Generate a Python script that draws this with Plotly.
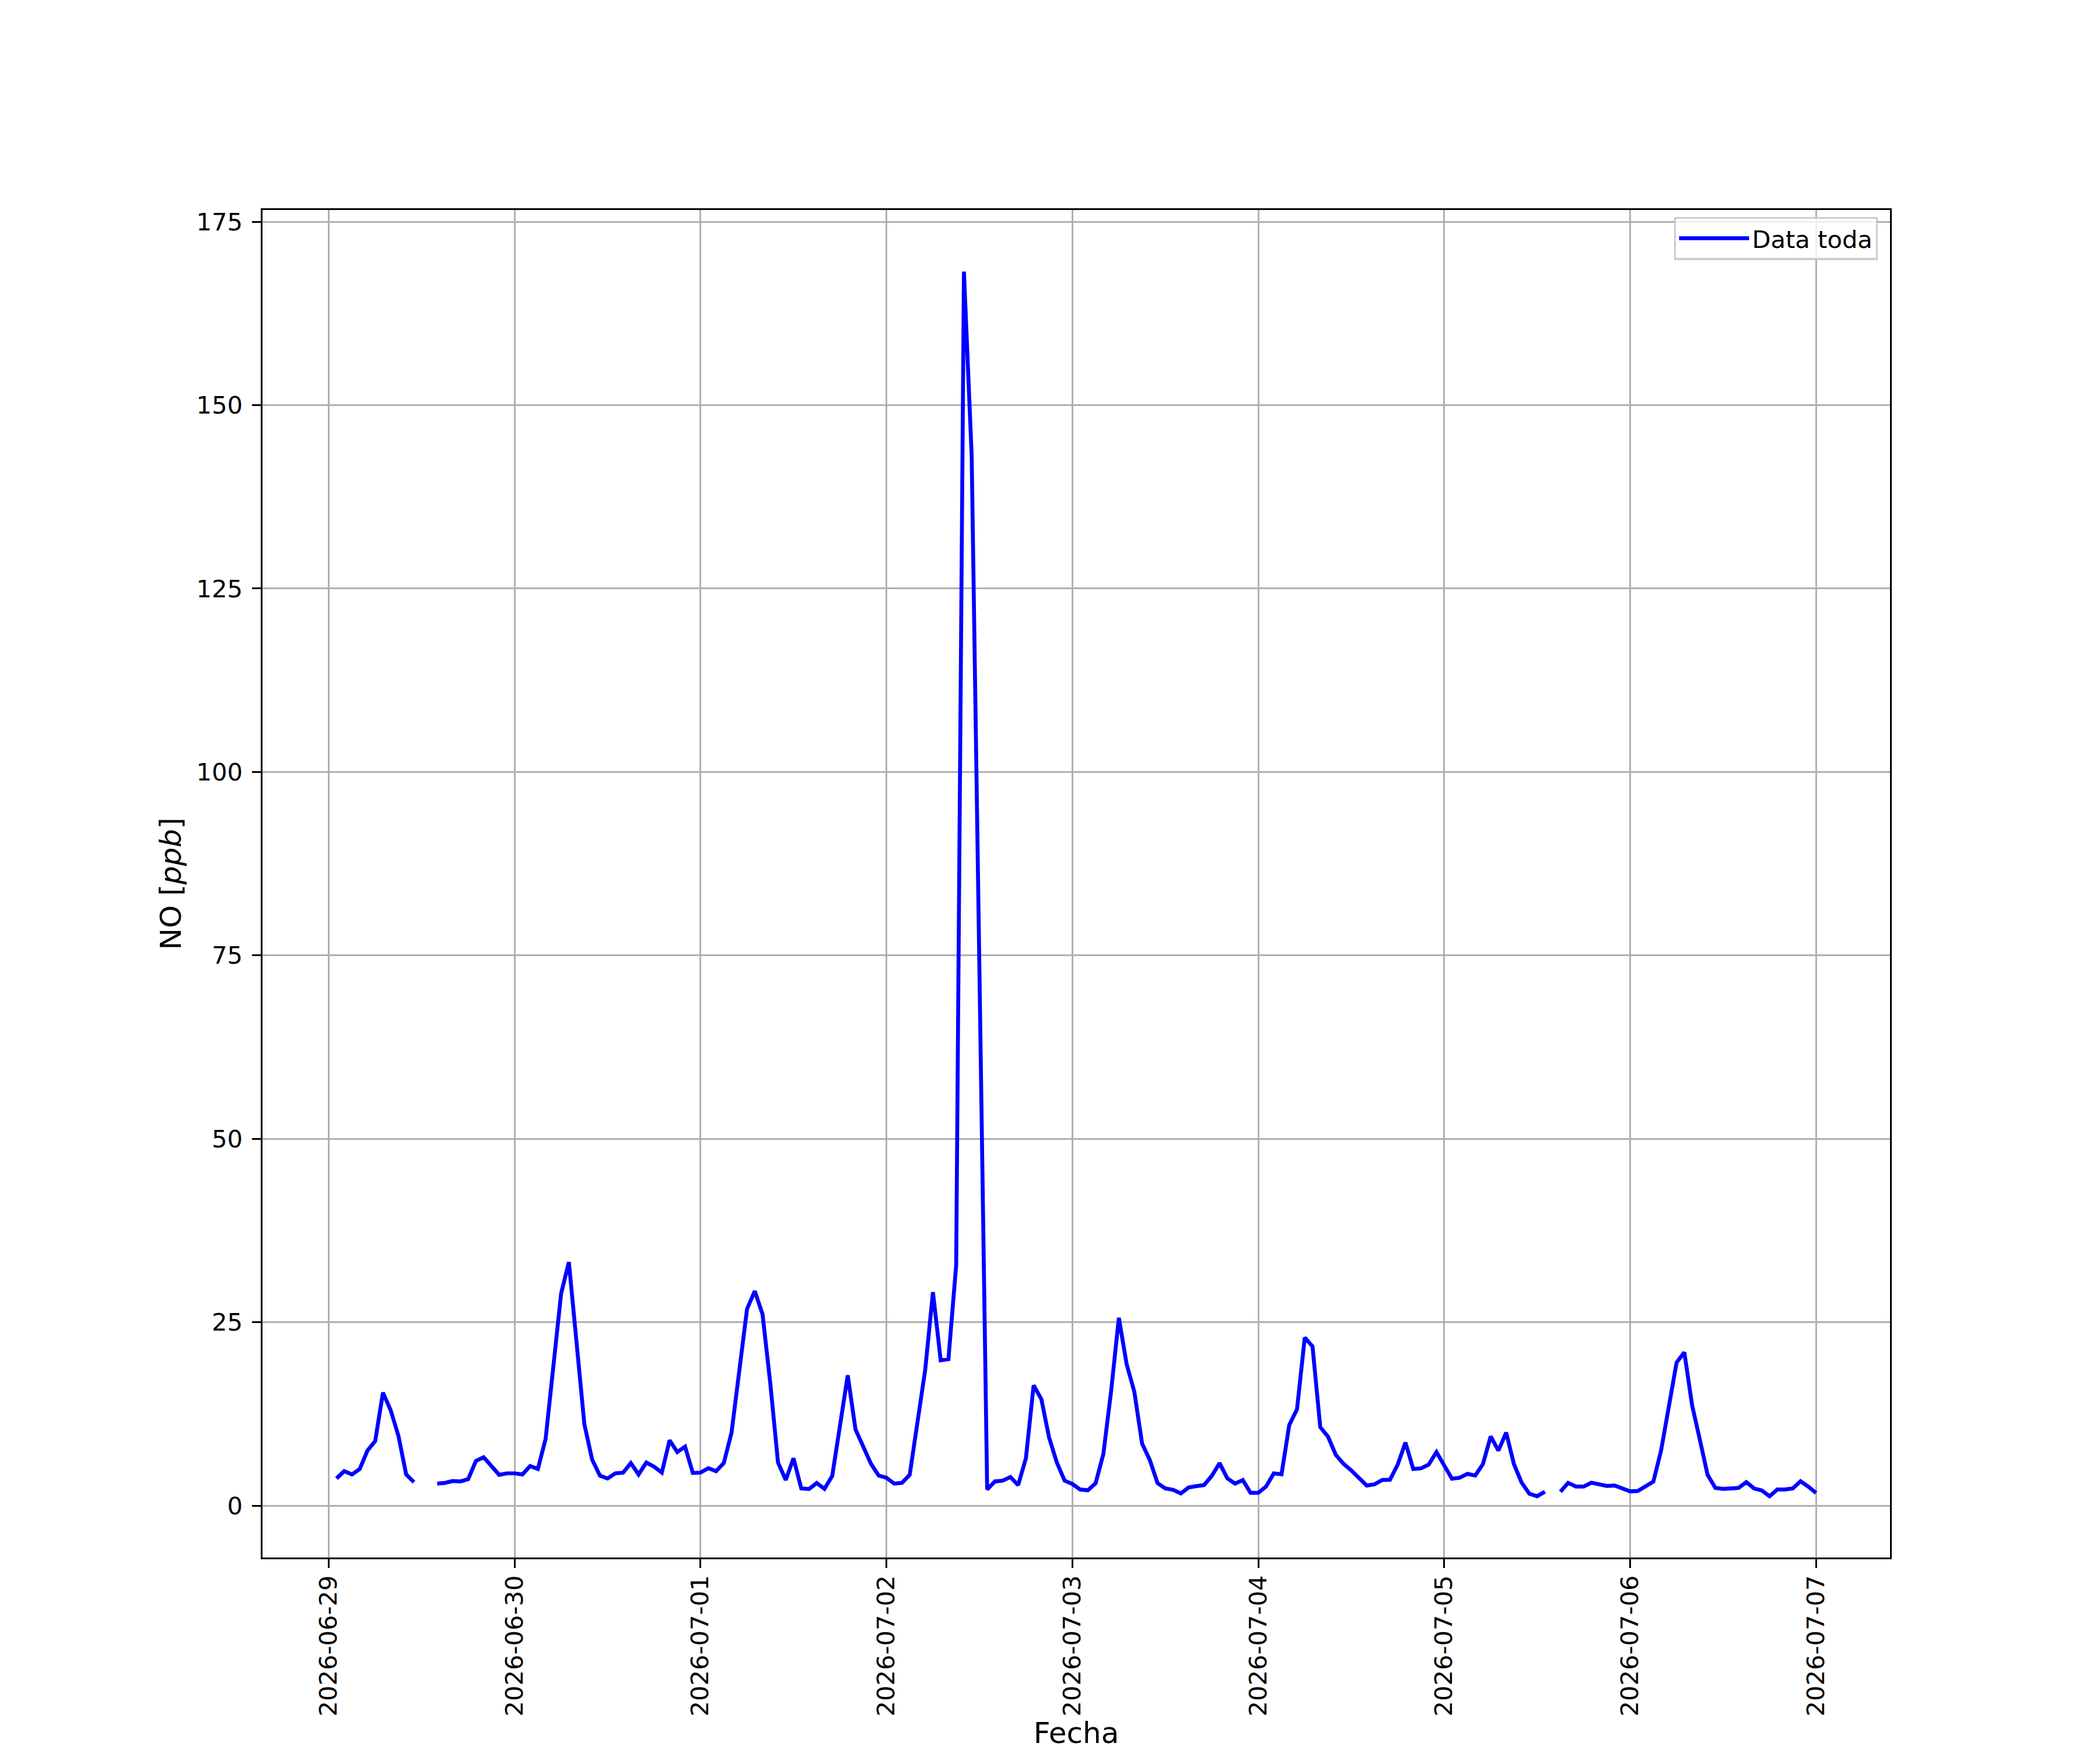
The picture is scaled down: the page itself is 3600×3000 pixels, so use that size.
import pandas as pd
import plotly.graph_objects as go

# Hourly NO values [ppb]; each list holds hours 01:00 .. 24:00 (next day 00:00)
day_0629 = [3.7, 4.7, 4.25, 5.0, 7.5, 8.8, 15.4, 13.0, 9.5, 4.25, 3.2, None,
            None, 3.0, 3.1, 3.35, 3.3, 3.6, 6.1, 6.6, 5.4, 4.2, 4.4, 4.4]
day_0630 = [4.25, 5.4, 5.0, 9.1, 19.0, 28.9, 33.2, 22.1, 11.1, 6.3, 4.1, 3.7,
            4.4, 4.5, 5.8, 4.25, 5.87, 5.3, 4.5, 8.9, 7.3, 8.05, 4.46, 4.5]
day_0701 = [5.1, 4.7, 5.8, 9.96, 17.9, 26.8, 29.25, 26.1, 16.7, 5.87, 3.5, 6.46,
            2.34, 2.26, 3.08, 2.28, 4.06, 10.9, 17.75, 10.4, 8.05, 5.7, 4.1, 3.8]
day_0702 = [3.0, 3.1, 4.2, 11.4, 18.5, 29.1, 19.8, 19.95, 32.8, 168.2, 143.1, 73.0,
            2.2, 3.3, 3.4, 3.9, 2.8, 6.46, 16.4, 14.5, 9.25, 5.87, 3.4, 2.95]
day_0703 = [2.2, 2.1, 3.05, 7.04, 15.6, 25.6, 19.3, 15.5, 8.45, 6.2, 3.05, 2.34,
            2.15, 1.67, 2.47, 2.66, 2.8, 4.06, 5.8, 3.72, 3.0, 3.48, 1.75, 1.75]
day_0704 = [2.6, 4.4, 4.28, 11.0, 13.15, 22.9, 21.7, 10.7, 9.4, 6.93, 5.7, 4.8,
            3.8, 2.74, 2.9, 3.5, 3.53, 5.6, 8.6, 5.0, 5.07, 5.6, 7.3, 5.5]
day_0705 = [3.67, 3.8, 4.33, 4.1, 5.66, 9.43, 7.5, 9.96, 5.66, 3.13, 1.62, 1.28,
            1.9, None, 1.9, 3.1, 2.6, 2.6, 3.13, 2.87, 2.68, 2.74, 2.28, 1.94]
day_0706 = [2.0, 2.6, 3.27, 7.52, 13.5, 19.5, 20.9, 13.7, 9.0, 4.2, 2.42, 2.28,
            2.34, 2.42, 3.21, 2.34, 2.07, 1.28, 2.2, 2.2, 2.34, 3.32, 2.6, 1.73]

no_values = (day_0629 + day_0630 + day_0701 + day_0702 +
             day_0703 + day_0704 + day_0705 + day_0706)
times = pd.date_range("2026-06-29 01:00", periods=len(no_values), freq="h")

x_tick_labels = ["2026-06-29", "2026-06-30", "2026-07-01", "2026-07-02", "2026-07-03",
                 "2026-07-04", "2026-07-05", "2026-07-06", "2026-07-07"]
y_tick_values = [0, 25, 50, 75, 100, 125, 150, 175]

PT = 300 / 72.0
FONT = "DejaVu Sans"

fig = go.Figure()
fig.add_trace(go.Scatter(
    x=times, y=no_values, mode="lines", name="Data toda",
    line=dict(color="#0000ff", width=6.7), connectgaps=False,
))

axis_common = dict(
    showgrid=True, gridcolor="#b0b0b0", gridwidth=0.8 * PT,
    showline=True, linecolor="black", linewidth=0.8 * PT, mirror=True,
    ticks="outside", ticklen=3.5 * PT, tickwidth=0.8 * PT, tickcolor="black",
    zeroline=False, tickfont=dict(family=FONT, size=10 * PT, color="black"),
)

# page body has an 8px margin, so the figure is 8px smaller than the 3600x3000 window
fig.update_layout(
    width=3592, height=2992,
    paper_bgcolor="white", plot_bgcolor="white",
    margin=dict(l=442, r=360, t=352, b=330, autoexpand=False),
    font=dict(family=FONT, size=10 * PT, color="black"),
    showlegend=True,
    legend=dict(
        x=0.9925, y=0.995, xanchor="right", yanchor="top",
        bgcolor="rgba(255,255,255,0.8)", bordercolor="#cccccc", borderwidth=0.8 * PT,
        font=dict(family=FONT, size=10 * PT, color="black"),
        itemwidth=120,
    ),
    xaxis=dict(
        **axis_common,
        type="date",
        range=["2026-06-28 15:27", "2026-07-07 09:33"],
        tickmode="array",
        tickvals=pd.to_datetime(x_tick_labels),
        ticktext=x_tick_labels,
        tickangle=-90,
        ticklabelstandoff=-4,
        title=dict(text="Fecha", font=dict(family=FONT, size=12 * PT, color="black"), standoff=24),
        automargin=False,
    ),
    yaxis=dict(
        **axis_common,
        range=[-7.07, 176.6],
        tickmode="array",
        tickvals=y_tick_values,
        ticktext=[str(v) for v in y_tick_values],
        ticklabelstandoff=8,
        title=dict(text="NO [<i>ppb</i>]", font=dict(family=FONT, size=12 * PT, color="black"), standoff=10),
        automargin=False,
    ),
)

fig.write_html("out.html")
